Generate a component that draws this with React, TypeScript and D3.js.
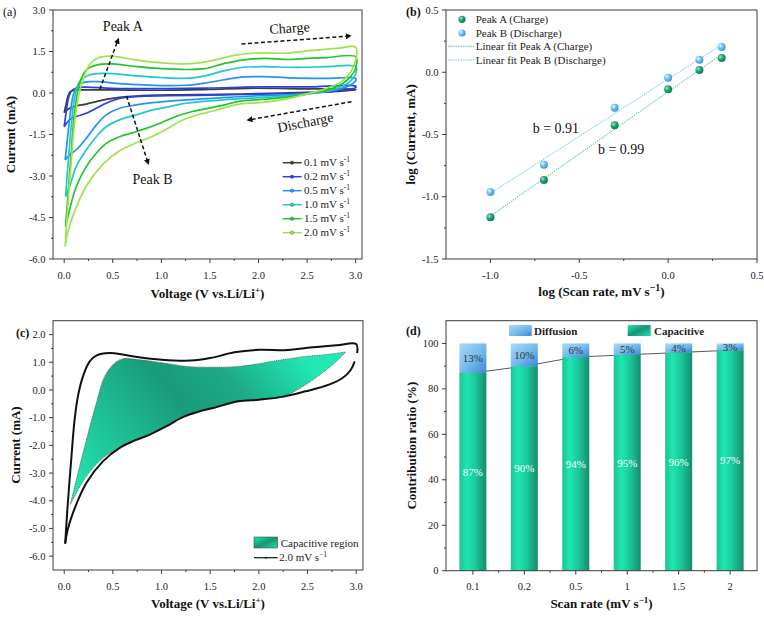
import React from 'react';
import * as d3 from 'd3';

const FONT = "'Liberation Serif', 'Times New Roman', serif";

// ---------------- (a) CV curves, points are [V, I (mA)] ----------------
const cvLabels = ['0.1', '0.2', '0.5', '1.0', '1.5', '2.0'];
const cvColors = ['#3d3d3d', '#2b3fe4', '#2094f0', '#1fc7d2', '#22c42c', '#a0e24c'];

const cv01Up = [[0.0, -0.71], [0.02, -0.4], [0.04, -0.1], [0.06, 0.04], [0.1, 0.1], [0.2, 0.11], [0.5, 0.11], [1.0, 0.1], [1.5, 0.13], [1.9, 0.17], [2.5, 0.15], [3.0, 0.13]];
const cv01Down = [[3.0, 0.12], [2.8, 0.06], [2.5, 0.02], [2.0, -0.02], [1.63, -0.05], [1.084, -0.07], [0.741, -0.11], [0.57, -0.16], [0.432, -0.23], [0.33, -0.31], [0.227, -0.4], [0.124, -0.47], [0.055, -0.55], [0.0, -0.71]];

const cv02Up = [[0.0, -1.22], [0.02, -0.7], [0.04, -0.25], [0.07, 0.05], [0.12, 0.17], [0.2, 0.21], [0.5, 0.17], [1.0, 0.16], [1.5, 0.18], [2.0, 0.22], [2.5, 0.22], [3.0, 0.25]];
const cv02Down = [[3.0, 0.2], [2.9, 0.12], [2.75, 0.05], [2.5, 0.0], [2.0, -0.04], [1.63, -0.07], [1.084, -0.1], [0.741, -0.13], [0.57, -0.2], [0.432, -0.37], [0.33, -0.55], [0.227, -0.73], [0.124, -0.85], [0.055, -0.97], [0.0, -1.22]];

const cv05Up = [[0.01, -2.42], [0.04, -1.45], [0.07, -0.55], [0.1, 0.0], [0.16, 0.33], [0.26, 0.41], [0.35, 0.41], [0.6, 0.33], [1.0, 0.27], [1.25, 0.28], [1.45, 0.36], [1.65, 0.48], [1.85, 0.58], [2.06, 0.59], [2.3, 0.55], [2.7, 0.53], [3.0, 0.53]];
const cv05Down = [[3.0, 0.45], [2.95, 0.3], [2.87, 0.18], [2.75, 0.08], [2.5, -0.02], [2.25, -0.07], [2.0, -0.1], [1.63, -0.17], [1.256, -0.25], [0.912, -0.35], [0.741, -0.43], [0.57, -0.55], [0.432, -0.79], [0.33, -1.16], [0.227, -1.64], [0.124, -2.06], [0.055, -2.24], [0.01, -2.42]];

const cv10Up = [[0.014, -3.75], [0.038, -2.66], [0.072, -1.22], [0.106, -0.19], [0.158, 0.41], [0.26, 0.65], [0.4, 0.71], [0.75, 0.62], [1.0, 0.56], [1.25, 0.53], [1.45, 0.62], [1.65, 0.81], [1.85, 0.93], [2.06, 0.95], [2.3, 0.93], [2.5, 0.93], [2.7, 0.95], [3.0, 0.95]];
const cv10Down = [[3.0, 0.7], [2.95, 0.45], [2.87, 0.25], [2.75, 0.1], [2.5, -0.04], [2.25, -0.12], [2.0, -0.17], [1.63, -0.25], [1.256, -0.37], [1.084, -0.49], [0.912, -0.61], [0.741, -0.79], [0.57, -0.97], [0.432, -1.22], [0.33, -1.58], [0.227, -2.06], [0.124, -2.66], [0.055, -3.39], [0.014, -3.75]];

const cv15Up = [[0.014, -4.83], [0.038, -3.75], [0.072, -2.18], [0.106, -0.73], [0.158, 0.35], [0.227, 0.83], [0.33, 1.01], [0.5, 1.05], [0.75, 0.95], [1.0, 0.88], [1.25, 0.85], [1.45, 0.88], [1.65, 1.07], [1.85, 1.2], [2.06, 1.25], [2.3, 1.21], [2.5, 1.25], [2.7, 1.28], [3.0, 1.31]];
const cv15Down = [[3.0, 0.9], [2.95, 0.6], [2.87, 0.35], [2.75, 0.15], [2.5, -0.04], [2.25, -0.17], [2.0, -0.24], [1.8, -0.3], [1.63, -0.45], [1.32, -0.67], [1.15, -0.85], [0.981, -1.1], [0.844, -1.28], [0.741, -1.4], [0.57, -1.58], [0.432, -1.82], [0.33, -2.18], [0.227, -2.66], [0.124, -3.39], [0.055, -4.23], [0.014, -4.83]];

const cv20Up = [[0.01, -5.55], [0.035, -4.2], [0.072, -2.52], [0.107, -1.07], [0.141, -0.23], [0.193, 0.49], [0.262, 1.03], [0.33, 1.24], [0.468, 1.33], [0.6, 1.28], [0.75, 1.19], [1.0, 1.09], [1.3, 1.06], [1.5, 1.15], [1.75, 1.36], [2.0, 1.45], [2.3, 1.44], [2.5, 1.52], [2.8, 1.61], [3.0, 1.66], [3.01, 1.33]];
const cv20Down = [[2.985, 1.03], [2.945, 0.73], [2.86, 0.43], [2.72, 0.19], [2.48, -0.05], [2.24, -0.25], [2.0, -0.35], [1.79, -0.41], [1.533, -0.65], [1.395, -0.77], [1.224, -0.97], [1.052, -1.31], [0.88, -1.61], [0.708, -1.85], [0.57, -2.09], [0.4, -2.57], [0.227, -3.36], [0.09, -4.44], [0.036, -5.05], [0.01, -5.55]];

// ---------------- (b) log-log peak currents ----------------
const logRate = [-1.0, -0.699, -0.301, 0.0, 0.176, 0.301];
const logPeakA = [-1.165, -0.865, -0.426, -0.137, 0.018, 0.114];
const logPeakB = [-0.962, -0.742, -0.285, -0.044, 0.101, 0.203];

// ---------------- (c) capacitive region boundaries ----------------
const capUpper = [[0.062, -4.14], [0.193, -2.28], [0.33, -0.47], [0.416, 0.49], [0.52, 0.97], [0.605, 1.13], [0.75, 1.1], [0.914, 1.03], [1.1, 0.93], [1.26, 0.85], [1.53, 0.82], [1.79, 0.85], [2.0, 0.95], [2.13, 1.03], [2.48, 1.21], [2.7, 1.28], [2.894, 1.37]];
const capLower = [[0.062, -4.14], [0.227, -3.12], [0.4, -2.45], [0.57, -2.09], [0.708, -1.85], [0.88, -1.61], [1.052, -1.31], [1.224, -0.97], [1.395, -0.77], [1.533, -0.65], [1.79, -0.41], [2.0, -0.34], [2.24, -0.25], [2.48, 0.19], [2.757, 0.91], [2.894, 1.37]];

// ---------------- (d) contribution ratio ----------------
const scanRates = ['0.1', '0.2', '0.5', '1', '1.5', '2'];
const capacitive = [87, 90, 94, 95, 96, 97];
const diffusion = [13, 10, 6, 5, 4, 3];

function fit(xs: number[], ys: number[]) {
  const mx = d3.mean(xs)!;
  const my = d3.mean(ys)!;
  let sxy = 0, sxx = 0;
  xs.forEach((x, i) => { sxy += (x - mx) * (ys[i] - my); sxx += (x - mx) * (x - mx); });
  const k = sxy / sxx;
  return (x: number) => my + k * (x - mx);
}

const AX = '#3a3a3a';
const TICK_FS = 10.5;

function Frame({ l, r, t, b }: any) {
  return <rect x={l} y={t} width={r - l} height={b - t} fill="none" stroke={AX} strokeWidth={1} />;
}

function LeftAxis({ scale, x, major, minor, fmt }: any) {
  return (
    <g>
      {major.map((v: number) => (
        <g key={'M' + v}>
          <line x1={x - 4} x2={x} y1={scale(v)} y2={scale(v)} stroke={AX} />
          <text x={x - 7.5} y={scale(v) + 3.6} textAnchor="end" fontSize={TICK_FS} fontFamily={FONT} fill="#222">{fmt(v)}</text>
        </g>
      ))}
      {minor.map((v: number) => (
        <line key={'m' + v} x1={x - 2} x2={x} y1={scale(v)} y2={scale(v)} stroke={AX} />
      ))}
    </g>
  );
}

function BottomAxis({ scale, y, major, minor, fmt }: any) {
  return (
    <g>
      {major.map((v: any) => (
        <g key={'M' + v}>
          <line x1={scale(v)} x2={scale(v)} y1={y} y2={y + 4} stroke={AX} />
          <text x={scale(v)} y={y + 19.5} textAnchor="middle" fontSize={TICK_FS} fontFamily={FONT} fill="#222">{fmt(v)}</text>
        </g>
      ))}
      {minor.map((v: number) => (
        <line key={'m' + v} x1={scale(v)} x2={scale(v)} y1={y} y2={y + 2} stroke={AX} />
      ))}
    </g>
  );
}

const f1 = (v: number) => v.toFixed(1);

export default function App() {
  const ax = d3.scaleLinear().domain([-0.115, 3.065]).range([53, 362]);
  const ay = d3.scaleLinear().domain([-6, 3]).range([259, 10]);
  const bx = d3.scaleLinear().domain([-1.25, 0.5]).range([446, 757]);
  const by = d3.scaleLinear().domain([-1.5, 0.5]).range([259, 10]);
  const cx = d3.scaleLinear().domain([-0.115, 3.07]).range([53, 363]);
  const cy = d3.scaleLinear().domain([-6.5, 2.5]).range([570, 320.7]);
  const dxs = d3.scaleBand().domain(scanRates).range([446, 757]).paddingInner(0.475).paddingOuter(0.26);
  const dys = d3.scaleLinear().domain([0, 110]).range([570.7, 320.7]);

  const curve = d3.curveCatmullRom.alpha(0.5);
  const lineA = d3.line<any>().x(d => ax(d[0])).y(d => ay(d[1])).curve(curve);
  const lineC = d3.line<any>().x(d => cx(d[0])).y(d => cy(d[1])).curve(curve);

  const cvCurves = [
    [cv01Up, cv01Down], [cv02Up, cv02Down], [cv05Up, cv05Down],
    [cv10Up, cv10Down], [cv15Up, cv15Down], [cv20Up, cv20Down],
  ];

  const fitA = fit(logRate, logPeakA);
  const fitB = fit(logRate, logPeakB);
  const fitXs = [logRate[0], logRate[logRate.length - 1]];

  // capacitive polygon
  const upPath = lineC(capUpper)!;
  const lowPath = lineC([...capLower].reverse())!;
  const capPath = upPath + 'L' + lowPath.slice(1) + 'Z';

  // gradient geometry for capacitive region (user space via scales)
  const g0x = cx(0.1), g0y = cy(-3.7);
  const g1x = cx(2.6), g1y = cy(3.2);

  const legendA = cvLabels.map((l, i) => ({ l, c: cvColors[i], y: 162.7 + i * 14 }));

  const arrow = (x1: number, y1: number, x2: number, y2: number) => (
    <line x1={x1} y1={y1} x2={x2} y2={y2} stroke="#111" strokeWidth={1.5} strokeDasharray="4,2.5" markerEnd="url(#arrowHead)" />
  );

  const capLine = d3.line<any>().x((d, i) => dxs(scanRates[i])! + dxs.bandwidth() / 2).y(d => dys(d));

  return (
    <svg width={764} height={618} style={{ position: 'absolute', left: 0, top: 0, background: '#fff' }} fontFamily={FONT}>
      <defs>
        <marker id="arrowHead" viewBox="0 0 10 10" refX="7" refY="5" markerWidth="4" markerHeight="4" orient="auto" markerUnits="strokeWidth">
          <path d="M0,0 L10,5 L0,10 z" fill="#111" />
        </marker>
        <linearGradient id="capFill" gradientUnits="userSpaceOnUse" x1={g0x} y1={g0y} x2={g1x} y2={g1y}>
          <stop offset="0" stopColor="#22e6b0" />
          <stop offset="0.45" stopColor="#1a9a7b" />
          <stop offset="0.62" stopColor="#1caa85" />
          <stop offset="0.85" stopColor="#22e6b3" />
          <stop offset="1" stopColor="#24ecb8" />
        </linearGradient>
        <linearGradient id="barCap" x1="0" y1="0" x2="1" y2="0">
          <stop offset="0" stopColor="#1cc396" />
          <stop offset="0.28" stopColor="#1fe6b0" />
          <stop offset="0.6" stopColor="#1bc79b" />
          <stop offset="1" stopColor="#158c6d" />
        </linearGradient>
        <linearGradient id="barDif" x1="0" y1="0" x2="1" y2="1">
          <stop offset="0" stopColor="#a9daf5" />
          <stop offset="0.55" stopColor="#72b9ec" />
          <stop offset="1" stopColor="#3b86d6" />
        </linearGradient>
        <linearGradient id="legCap" x1="0" y1="0" x2="1" y2="1">
          <stop offset="0" stopColor="#1fe6b0" />
          <stop offset="0.5" stopColor="#179574" />
          <stop offset="1" stopColor="#1fe0ac" />
        </linearGradient>
        <radialGradient id="sphA" cx="0.35" cy="0.35" r="0.7">
          <stop offset="0" stopColor="#a5e6c9" />
          <stop offset="0.45" stopColor="#21a375" />
          <stop offset="1" stopColor="#0e7650" />
        </radialGradient>
        <radialGradient id="sphB" cx="0.35" cy="0.35" r="0.7">
          <stop offset="0" stopColor="#e6f6fe" />
          <stop offset="0.45" stopColor="#70c2f1" />
          <stop offset="1" stopColor="#3a92d8" />
        </radialGradient>
      </defs>

      {/* ======================= (a) ======================= */}
      <g>
        {cvCurves.map((c, i) => (
          <path key={i} d={lineA([...c[0], ...c[1]])!} fill="none" stroke={cvColors[i]} strokeWidth={1.7} strokeLinejoin="round" />
        ))}
        <Frame l={53} r={362} t={10} b={259} />
        <LeftAxis scale={ay} x={53} major={[-6, -4.5, -3, -1.5, 0, 1.5, 3]} minor={[-5.25, -3.75, -2.25, -0.75, 0.75, 2.25]} fmt={f1} />
        <BottomAxis scale={ax} y={259} major={[0, 0.5, 1, 1.5, 2, 2.5, 3]} minor={[0.25, 0.75, 1.25, 1.75, 2.25, 2.75]} fmt={f1} />
        <text x={3} y={16} fontSize={12} fill="#111">(a)</text>
        <text transform="translate(15,134.5) rotate(-90)" textAnchor="middle" fontSize={13} fontWeight="bold" fill="#111">Current (mA)</text>
        <text x={207.5} y={298} textAnchor="middle" fontSize={13} fontWeight="bold" fill="#111">
          Voltage (V vs.Li/Li<tspan dy={-5} fontSize={9}>+</tspan><tspan dy={5}>)</tspan>
        </text>
        {/* annotations */}
        {arrow(ax(0.367), ay(0.134), ax(0.556), ay(1.94))}
        {arrow(ax(0.642), ay(-0.108), ax(0.864), ay(-2.54))}
        {arrow(ax(1.825), ay(1.77), ax(2.94), ay(2.06))}
        {arrow(ax(2.957), ay(-0.315), ax(1.894), ay(-0.976))}
        <text x={ax(0.398)} y={ay(2.24)} fontSize={14} fill="#111">Peak A</text>
        <text x={ax(0.704)} y={ay(-3.29)} fontSize={14} fill="#111">Peak B</text>
        <text x={ax(2.116)} y={ay(2.13)} fontSize={14} fill="#111" transform={`rotate(-4, ${ax(2.116)}, ${ay(2.13)})`}>Charge</text>
        <text x={ax(2.492)} y={ay(-1.23)} textAnchor="middle" fontSize={14} fill="#111" transform={`rotate(-11, ${ax(2.492)}, ${ay(-1.23)})`}>Discharge</text>
        {legendA.map(d => (
          <g key={d.l}>
            <line x1={282.7} x2={301.7} y1={d.y} y2={d.y} stroke={d.c} strokeWidth={1.5} />
            <circle cx={292} cy={d.y} r={1.8} fill={d.c} stroke="#333" strokeWidth={0.3} />
            <text x={304} y={d.y + 3.6} fontSize={11} fill="#222">{d.l} mV s<tspan dy={-4} fontSize={7.5}>-1</tspan></text>
          </g>
        ))}
      </g>

      {/* ======================= (b) ======================= */}
      <g>
        <Frame l={446} r={757} t={10} b={259} />
        <LeftAxis scale={by} x={446} major={[-1.5, -1, -0.5, 0, 0.5]} minor={[-1.25, -0.75, -0.25, 0.25]} fmt={f1} />
        <BottomAxis scale={bx} y={259} major={[-1, -0.5, 0, 0.5]} minor={[-0.75, -0.25, 0.25]} fmt={f1} />
        <line x1={bx(fitXs[0])} y1={by(fitA(fitXs[0]))} x2={bx(fitXs[1])} y2={by(fitA(fitXs[1]))} stroke="#3ec29b" strokeWidth={1} strokeDasharray="1.5,1" />
        <line x1={bx(fitXs[0])} y1={by(fitB(fitXs[0]))} x2={bx(fitXs[1])} y2={by(fitB(fitXs[1]))} stroke="#70c4f0" strokeWidth={1} strokeDasharray="1.5,1" />
        {logRate.map((x, i) => (
          <g key={i}>
            <circle cx={bx(x)} cy={by(logPeakA[i])} r={4} fill="url(#sphA)" />
            <circle cx={bx(x)} cy={by(logPeakB[i])} r={4} fill="url(#sphB)" />
          </g>
        ))}
        <text x={bx(-0.762)} y={by(-0.486)} fontSize={14} fill="#111">b = 0.91</text>
        <text x={bx(-0.395)} y={by(-0.657)} fontSize={14} fill="#111">b = 0.99</text>
        <text x={406} y={16} fontSize={12} fontWeight="bold" fill="#111">(b)</text>
        <text transform="translate(415,134.5) rotate(-90)" textAnchor="middle" fontSize={13} fontWeight="bold" fill="#111">log (Current, mA)</text>
        <text x={601.5} y={296} textAnchor="middle" fontSize={13} fontWeight="bold" fill="#111">
          log (Scan rate, mV s<tspan dy={-5} fontSize={10}>−1</tspan><tspan dy={5}>)</tspan>
        </text>
        {/* legend */}
        <circle cx={462} cy={19.3} r={3.6} fill="url(#sphA)" />
        <text x={475.7} y={23} fontSize={11} fill="#222">Peak A (Charge)</text>
        <circle cx={462} cy={33} r={3.6} fill="url(#sphB)" />
        <text x={475.7} y={36.7} fontSize={11} fill="#222">Peak B (Discharge)</text>
        <line x1={448} x2={474} y1={46.3} y2={46.3} stroke="#3ec29b" strokeWidth={1} strokeDasharray="1.5,1" />
        <text x={475.7} y={50} fontSize={11} fill="#222">Linear fit Peak A (Charge)</text>
        <line x1={448} x2={474} y1={60} y2={60} stroke="#70c4f0" strokeWidth={1} strokeDasharray="1.5,1" />
        <text x={475.7} y={63.7} fontSize={11} fill="#222">Linear fit Peak B (Discharge)</text>
      </g>

      {/* ======================= (c) ======================= */}
      <g>
        <path d={capPath} fill="url(#capFill)" stroke="#555" strokeWidth={0.8} strokeDasharray="1,0.8" />
        <path d={lineC(cv20Up)!} fill="none" stroke="#111" strokeWidth={2} />
        <path d={lineC(cv20Down)!} fill="none" stroke="#111" strokeWidth={2} />
        <Frame l={53} r={363} t={320.7} b={570} />
        <LeftAxis scale={cy} x={53} major={[-6, -5, -4, -3, -2, -1, 0, 1, 2]} minor={[-5.5, -4.5, -3.5, -2.5, -1.5, -0.5, 0.5, 1.5]} fmt={f1} />
        <BottomAxis scale={cx} y={570} major={[0, 0.5, 1, 1.5, 2, 2.5, 3]} minor={[0.25, 0.75, 1.25, 1.75, 2.25, 2.75]} fmt={f1} />
        <text x={16} y={337} fontSize={12} fontWeight="bold" fill="#111">(c)</text>
        <text transform="translate(19.5,445) rotate(-90)" textAnchor="middle" fontSize={13} fontWeight="bold" fill="#111">Current (mA)</text>
        <text x={208} y={608} textAnchor="middle" fontSize={13} fontWeight="bold" fill="#111">
          Voltage (V vs.Li/Li<tspan dy={-5} fontSize={9}>+</tspan><tspan dy={5}>)</tspan>
        </text>
        <rect x={254} y={537} width={23.7} height={11} fill="url(#legCap)" stroke="#333" strokeWidth={0.5} />
        <text x={280.7} y={546.7} fontSize={11} fill="#222">Capacitive region</text>
        <line x1={254} x2={277.7} y1={557.7} y2={557.7} stroke="#111" strokeWidth={1.2} />
        <circle cx={265.8} cy={557.7} r={1} fill="#111" />
        <text x={279.3} y={561} fontSize={11} fill="#222">2.0 mV s<tspan dy={-4} fontSize={7.5}>−1</tspan></text>
      </g>

      {/* ======================= (d) ======================= */}
      <g>
        <path d={capLine(capacitive)!} fill="none" stroke="#444" strokeWidth={0.9} />
        {scanRates.map((r, i) => {
          const x0 = dxs(r)!;
          const w = dxs.bandwidth();
          const top = capacitive[i] + diffusion[i];
          return (
            <g key={r}>
              <rect x={x0} y={dys(capacitive[i])} width={w} height={dys(0) - dys(capacitive[i])} fill="url(#barCap)" />
              <rect x={x0} y={dys(top)} width={w} height={dys(capacitive[i]) - dys(top)} fill="url(#barDif)" />
              <text x={x0 + w / 2} y={dys(capacitive[i] / 2) + 4} textAnchor="middle" fontSize={11} fill="#f4fffb">{capacitive[i]}%</text>
              <text x={x0 + w / 2} y={dys(capacitive[i] + diffusion[i] / 2) + 4} textAnchor="middle" fontSize={11} fill="#333">{diffusion[i]}%</text>
            </g>
          );
        })}
        <Frame l={446} r={757} t={320.7} b={570.7} />
        <LeftAxis scale={dys} x={446} major={[0, 20, 40, 60, 80, 100]} minor={[10, 30, 50, 70, 90]} fmt={(v: number) => String(v)} />
        <BottomAxis scale={(r: string) => dxs(r)! + dxs.bandwidth() / 2} y={570.7} major={scanRates} minor={[]} fmt={(v: string) => v} />
        {scanRates.slice(1).map(r => (
          <line key={r} x1={dxs(r)! - dxs.step() * dxs.paddingInner() / 2} x2={dxs(r)! - dxs.step() * dxs.paddingInner() / 2} y1={570.7} y2={572.7} stroke={AX} />
        ))}
        <text x={406} y={335} fontSize={12} fontWeight="bold" fill="#111">(d)</text>
        <text transform="translate(416,445.7) rotate(-90)" textAnchor="middle" fontSize={13} fontWeight="bold" fill="#111">Contribution ratio (%)</text>
        <text x={601.5} y={608} textAnchor="middle" fontSize={13} fontWeight="bold" fill="#111">
          Scan rate (mV s<tspan dy={-5} fontSize={9}>−1</tspan><tspan dy={5}>)</tspan>
        </text>
        <rect x={509} y={325} width={22.7} height={11} fill="url(#barDif)" />
        <text x={534} y={334.5} fontSize={11} fontWeight="bold" fill="#222">Diffusion</text>
        <rect x={627.7} y={325} width={23} height={11} fill="url(#legCap)" />
        <text x={654} y={334.5} fontSize={11} fontWeight="bold" fill="#222">Capacitive</text>
      </g>
    </svg>
  );
}
